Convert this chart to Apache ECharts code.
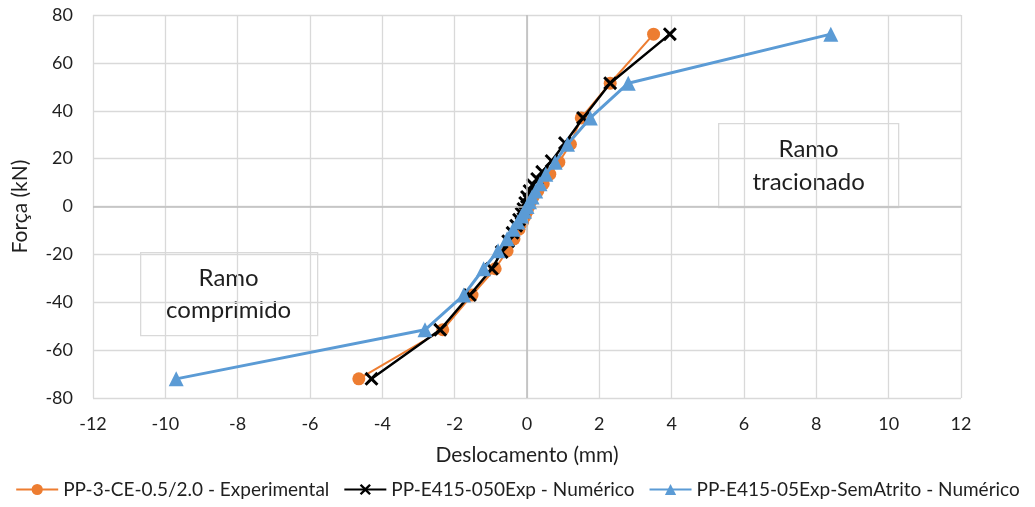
<!DOCTYPE html>
<html>
<head>
<meta charset="utf-8">
<script src="https://cdn.jsdelivr.net/npm/echarts@6/dist/echarts.min.js"></script>
<style>
  html, body { margin: 0; padding: 0; background: #fff; }
  #chart { width: 1035px; height: 507px; }
</style>
</head>
<body>
<div id="chart"></div>
<script>
// Load–displacement curves (force in kN, displacement in mm)
const seriesNames = [
  'PP-3-CE-0.5/2.0 - Experimental',
  'PP-E415-050Exp - Numérico',
  'PP-E415-05Exp-SemAtrito - Numérico'
];

const expForce = [-72, -51.5, -37, -26, -18.5, -13.5, -9.5, -6.5, -4, -2, 0, 2, 4, 6.5, 9.5, 13.5, 18.5, 26, 37, 51.5, 72];
const expDisp  = [-4.65, -2.33, -1.52, -0.88, -0.55, -0.36, -0.22, -0.12, -0.05, 0, 0.05, 0.1, 0.17, 0.3, 0.45, 0.63, 0.88, 1.2, 1.5, 2.3, 3.5];

const numForce = [-72, -51.5, -37, -26, -19, -14.5, -11, -8, -5.5, -3, -1, 1.5, 4, 6.5, 9, 11.5, 14.5, 19, 26.5, 37, 51.5, 72];
const numDisp  = [-4.3, -2.4, -1.58, -0.97, -0.7, -0.52, -0.4, -0.3, -0.22, -0.15, -0.1, -0.05, 0.0, 0.07, 0.16, 0.28, 0.42, 0.68, 1.05, 1.55, 2.3, 3.95];

const sfForce = [-72, -51.5, -37, -26, -18.5, -13.5, -9.5, -6.5, -4, -2, 0, 2, 4, 6.5, 9.5, 13.5, 18.5, 26, 37, 51.5, 72];
const sfDisp  = [-9.7, -2.82, -1.75, -1.2, -0.8, -0.55, -0.38, -0.25, -0.15, -0.07, 0, 0.07, 0.14, 0.24, 0.36, 0.52, 0.78, 1.12, 1.75, 2.8, 8.4];

const xTicks = { min: -12, max: 12, interval: 2 };
const yTicks = { min: -80, max: 80, interval: 20 };

const FONT = 'Lato, "Open Sans", sans-serif';
const INK = '#1f1f1f';
const pairs = (xs, ys) => xs.map((x, i) => [x, ys[i]]);

// "x" marker outline for the numerical curve
const crossSymbol = 'path://M2.1,0 L7,4.9 L11.9,0 L14,2.1 L9.1,7 L14,11.9 L11.9,14 L7,9.1 L2.1,14 L0,11.9 L4.9,7 L0,2.1 Z';

const chart = echarts.init(document.getElementById('chart'), null, { renderer: 'canvas' });

chart.setOption({
  backgroundColor: '#ffffff',
  animation: false,
  textStyle: { fontFamily: FONT },
  grid: { left: 93, right: 74, top: 15, bottom: 109, containLabel: false },
  xAxis: {
    type: 'value',
    min: xTicks.min, max: xTicks.max, interval: xTicks.interval,
    name: 'Deslocamento (mm)',
    nameLocation: 'middle',
    nameGap: 47,
    nameTextStyle: { fontSize: 21, color: INK, fontFamily: FONT },
    axisLine: { show: false, onZero: false },
    axisTick: { show: false },
    axisLabel: { fontSize: 18, color: INK, margin: 17, fontFamily: FONT },
    splitLine: { show: true, lineStyle: { color: '#d9d9d9', width: 1.3 } }
  },
  yAxis: {
    type: 'value',
    min: yTicks.min, max: yTicks.max, interval: yTicks.interval,
    name: 'Força (kN)',
    nameLocation: 'middle',
    nameGap: 62,
    nameRotate: 90,
    nameTextStyle: { fontSize: 21, color: INK, fontFamily: FONT },
    axisLine: { show: false, onZero: false },
    axisTick: { show: false },
    axisLabel: { fontSize: 18, color: INK, margin: 20, fontFamily: FONT },
    splitLine: { show: true, lineStyle: { color: '#d9d9d9', width: 1.3 } }
  },
  legend: {
    bottom: 3,
    left: 'center',
    itemWidth: 42,
    itemHeight: 14,
    itemGap: 14,
    textStyle: { fontSize: 19, color: INK, fontFamily: FONT },
    data: seriesNames
  },
  series: [
    {
      // zero reference lines drawn beneath the curves
      type: 'line',
      data: [],
      z: 1,
      silent: true,
      markLine: {
        silent: true,
        symbol: ['none', 'none'],
        label: { show: false },
        lineStyle: { color: '#bfbfbf', width: 1.6, type: 'solid' },
        data: [{ xAxis: 0 }, { yAxis: 0 }]
      }
    },
    {
      name: seriesNames[0],
      type: 'line',
      z: 3,
      data: pairs(expDisp, expForce),
      symbol: 'circle',
      symbolSize: 13,
      color: '#ED7D31',
      lineStyle: { color: '#ED7D31', width: 2 },
      itemStyle: { color: '#ED7D31' }
    },
    {
      name: seriesNames[1],
      type: 'line',
      z: 4,
      data: pairs(numDisp, numForce),
      symbol: crossSymbol,
      symbolSize: 14,
      color: '#000000',
      lineStyle: { color: '#000000', width: 2.5 },
      itemStyle: { color: '#000000' }
    },
    {
      name: seriesNames[2],
      type: 'line',
      z: 5,
      data: pairs(sfDisp, sfForce),
      symbol: 'triangle',
      symbolSize: 15,
      color: '#5B9BD5',
      lineStyle: { color: '#5B9BD5', width: 3 },
      itemStyle: { color: '#5B9BD5' }
    }
  ],
  graphic: [
    {
      type: 'group', left: 718, top: 123, z: 10,
      children: [
        { type: 'rect', shape: { x: 0, y: 0, width: 180, height: 84 },
          style: { fill: '#ffffff', stroke: '#d9d9d9', lineWidth: 1.3 } },
        { type: 'text', x: 90, y: 26,
          style: { text: 'Ramo', fontSize: 24, fontFamily: FONT, fill: INK, align: 'center', verticalAlign: 'middle' } },
        { type: 'text', x: 90, y: 59,
          style: { text: 'tracionado', fontSize: 24, fontFamily: FONT, fill: INK, align: 'center', verticalAlign: 'middle' } }
      ]
    },
    {
      type: 'group', left: 140, top: 252, z: 10,
      children: [
        { type: 'rect', shape: { x: 0, y: 0, width: 177, height: 83 },
          style: { fill: '#ffffff', stroke: '#d9d9d9', lineWidth: 1.3 } },
        { type: 'text', x: 88, y: 26,
          style: { text: 'Ramo', fontSize: 24, fontFamily: FONT, fill: INK, align: 'center', verticalAlign: 'middle' } },
        { type: 'text', x: 88, y: 58,
          style: { text: 'comprimido', fontSize: 24, fontFamily: FONT, fill: INK, align: 'center', verticalAlign: 'middle' } }
      ]
    }
  ]
});
</script>
</body>
</html>
